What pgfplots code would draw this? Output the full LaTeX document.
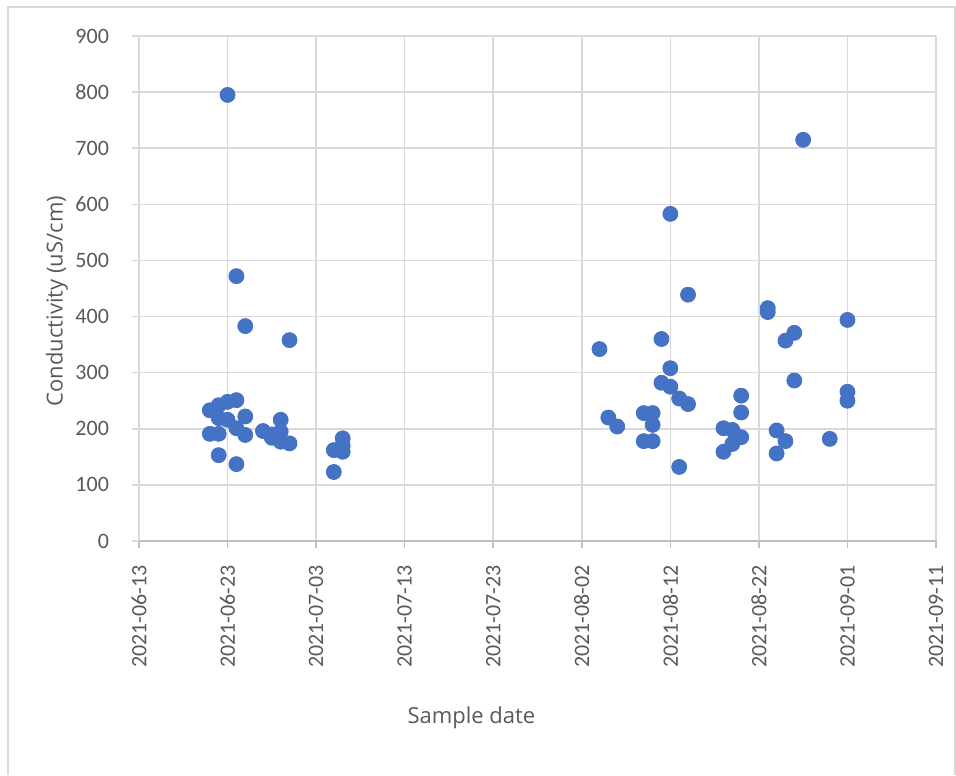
\documentclass[border=0pt]{standalone}
\usepackage{fontspec}
\setmainfont{Carlito}
\newfontfamily\labfont{Open Sans}
\usepackage{pgfplots}
\pgfplotsset{compat=1.18}
\definecolor{dot}{HTML}{4472C4}
\definecolor{gridc}{HTML}{D9D9D9}
\definecolor{axc}{HTML}{BFBFBF}
\definecolor{txt}{HTML}{595959}
\begin{document}
\begin{tikzpicture}
\begin{axis}[
  scale only axis, width=398.5pt, height=252.5pt,
  xmin=0, xmax=90, ymin=0, ymax=900,
  xtick={0,10,...,90},
  xticklabels={2021-06-13,2021-06-23,2021-07-03,2021-07-13,2021-07-23,2021-08-02,2021-08-12,2021-08-22,2021-09-01,2021-09-11},
  ytick={0,100,...,900},
  /pgf/number format/assume math mode=true,
  /pgf/number format/1000 sep={},
  x tick label style={rotate=90, anchor=east, font=\fontsize{11}{13}\selectfont, text=txt, xshift=-5pt},
  y tick label style={font=\fontsize{11}{13}\selectfont, text=txt, xshift=-8pt},
  xmajorgrids, ymajorgrids,
  grid style={gridc, line width=0.75pt},
  axis x line*=bottom, axis y line*=left,
  x axis line style={axc, line width=0.75pt, -},
  y axis line style={draw=none},
  tick align=outside,
  major tick length=3.5pt,
  xtick style={axc, line width=0.75pt},
  ytick style={gridc, line width=0.75pt},
  xlabel={Sample date}, ylabel={Conductivity (uS/cm)},
  label style={font=\labfont\fontsize{11}{14}\selectfont, text=txt},
  xlabel style={at={(axis description cs:0.417,-0.3505)}, anchor=center},
  ylabel style={at={(axis description cs:-0.1029,0.475)}, anchor=center},
  clip=false,
]
\addplot[only marks, mark=*, mark size=3.75pt, mark options={fill=dot, draw=dot}] coordinates {
(8,233) (8,191) (9,242) (9,219) (9,191) (9,153)
(10,795) (10,248) (10,216) (11,251) (11,472) (11,201) (11,137)
(12,383) (12,222) (12,189) (14,196) (15,190) (15,184)
(16,216) (16,195) (16,177) (17,174) (17,358)
(22,162) (22,123) (23,183) (23,170) (23,159)
(52,342) (53,220) (54,204) (57,228) (57,178) (58,228) (58,207) (58,178)
(59,360) (59,282) (60,583) (60,308) (60,275) (61,254) (61,132)
(62,439) (62,244) (66,201) (66,159) (67,198) (67,173)
(68,259) (68,229) (68,185) (71,415) (71,408) (72,197) (72,156)
(73,357) (73,178) (74,371) (74,286) (75,715) (78,182)
(80,394) (80,266) (80,250)
};
\end{axis}
\draw[gridc, line width=0.75pt] ([shift={(-65.5pt,-117pt)}]current axis.south west) -- ([shift={(-65.5pt,14.5pt)}]current axis.north west) -- ([shift={(9.5pt,14.5pt)}]current axis.north east) -- ([shift={(9.5pt,-117pt)}]current axis.south east);
\path ([shift={(-69.5pt,-117pt)}]current axis.south west) rectangle ([shift={(10pt,18pt)}]current axis.north east);
\end{tikzpicture}
\end{document}
